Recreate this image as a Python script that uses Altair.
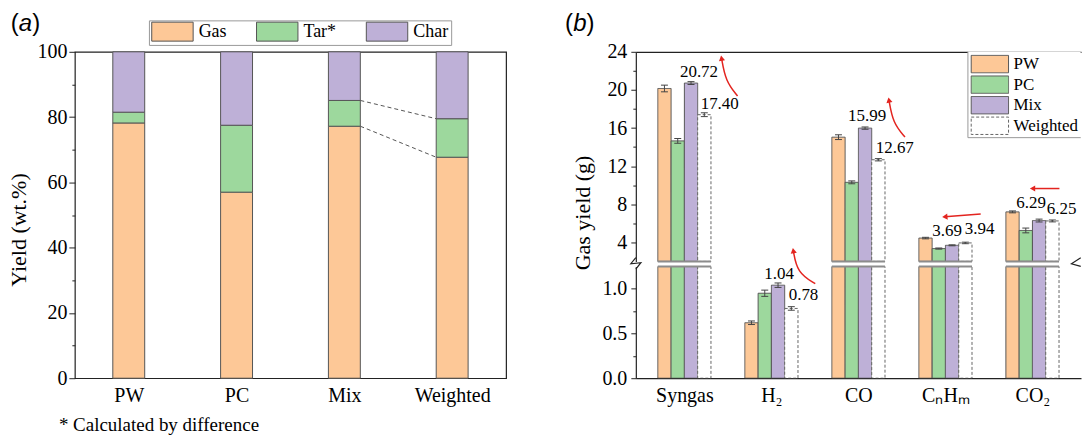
import json

import altair as alt
import pandas as pd

# ---- (a) product distribution, wt.% (tar by difference) ----
samples = ["PW", "PC", "Mix", "Weighted"]
gas_wt = [78.2, 57.0, 77.2, 67.7]
tar_wt = [3.3, 20.5, 7.9, 11.8]
char_wt = [18.5, 22.5, 14.9, 20.5]
fractions = ["Gas", "Tar*", "Char"]

# ---- (b) gas yields, g ----
gases = ["Syngas", "H₂", "CO", "CₙHₘ", "CO₂"]
feeds = ["PW", "PC", "Mix", "Weighted"]
gas_pw = [20.15, 0.62, 15.04, 4.45, 7.20]
gas_pc = [14.65, 0.95, 10.30, 3.35, 5.25]
gas_mix = [20.72, 1.04, 15.99, 3.69, 6.29]
gas_weighted = [17.40, 0.78, 12.67, 3.94, 6.25]
sd_pw = [0.35, 0.02, 0.25, 0.08, 0.10]
sd_pc = [0.25, 0.035, 0.15, 0.06, 0.25]
sd_mix = [0.15, 0.025, 0.12, 0.05, 0.15]
sd_weighted = [0.20, 0.02, 0.12, 0.08, 0.10]

# pixel nudges (dx, dy) of the value labels, one per gas
label_nudge = {
    "Mix": [(8, -11), (1, -11), (2, -12), (-5, -14), (-8, -18)],
    "Weighted": [(3, -11), (4, -13), (4, -12), (6, -14), (1, -12)],
}

# red trend arrows (Weighted -> Mix) in panel (b) data units; last point is the head
arrows_upper = {
    "Syngas": [(0.611, 19.36), (0.473, 20.93), (0.427, 23.34)],
    "CO": [(2.535, 15.06), (2.397, 16.53), (2.351, 18.94)],
    "CnHm": [(3.405, 6.97), (2.993, 6.68)],
    "CO2": [(4.31, 9.65), (4.001, 9.65)],
}
arrows_lower = {"H2": [(1.504, 1.057), (1.297, 1.18), (1.252, 1.427)]}
head_angle = {"Syngas": 350, "CO": 350, "CnHm": 265, "CO2": 270, "H2": 350}

ORANGE, GREEN, PURPLE = "#FDC897", "#9DD89D", "#BEB0D7"
RED = "#E3241F"
EDGE = "#555555"
DASH_EDGE = "#666666"
INK = "#222222"
BREAK = "#8C8C8C"
BOX = "#999999"
SERIF, SANS = "Liberation Serif", "Liberation Sans"

# broken y axis of panel (b)
UP_DOM = [2, 24]
LO_DOM = [0, 1.25]
X_DOM = [-0.558, 4.558]
BAR_W = 0.1527      # one bar, in group units
CAP = 0.04          # half width of error caps
HALF_A = 0.148      # half bar width in panel (a)
W_B = 446           # panel (b) plot width


def label_lookup(names):
    return json.dumps(names, ensure_ascii=False) + "[round(datum.value)]"


def blank():
    return alt.Chart(alt.Data(values=[{}]))


def word(text, x, y, size, font=SERIF, style="normal", baseline="alphabetic"):
    return blank().mark_text(
        text=text, font=font, fontSize=size, fontStyle=style,
        align="left", baseline=baseline, color="black",
    ).encode(x=alt.value(x), y=alt.value(y))


def panel_tag(letter, x, y):
    return [
        word("(", x, y, 24, SANS),
        word(letter, x + 8.2, y, 24, SANS, "italic"),
        word(")", x + 21.5, y, 24, SANS),
    ]


def box(x, x2, y, y2, **style):
    return blank().mark_rect(**style).encode(
        x=alt.value(x), x2=alt.value(x2), y=alt.value(y), y2=alt.value(y2))


def line(x, x2, y, y2, color=BOX):
    return blank().mark_rule(color=color, strokeWidth=1).encode(
        x=alt.value(x), x2=alt.value(x2), y=alt.value(y), y2=alt.value(y2))


# ================= panel (a) =================
rows_a = []
for i, s in enumerate(samples):
    base = 0.0
    for f, vals in zip(fractions, (gas_wt, tar_wt, char_wt)):
        rows_a.append({"sample": s, "fraction": f, "x0": i - HALF_A,
                       "x1": i + HALF_A, "lo": base, "hi": base + vals[i]})
        base += vals[i]
df_a = pd.DataFrame(rows_a)

mi, wi = samples.index("Mix"), samples.index("Weighted")
df_link = pd.DataFrame({
    "xa": [mi + HALF_A] * 2,
    "xb": [wi - HALF_A] * 2,
    "ya": [gas_wt[mi], gas_wt[mi] + tar_wt[mi]],
    "yb": [gas_wt[wi], gas_wt[wi] + tar_wt[wi]],
})

xa_scale = alt.Scale(domain=[-0.5, len(samples) - 0.5], nice=False, zero=False)
ya_scale = alt.Scale(domain=[0, 100], nice=False)
xa_axis = alt.Axis(values=list(range(len(samples))), labelExpr=label_lookup(samples),
                   ticks=False, domain=False, grid=False, title=None, labelPadding=7)
ya_axis = alt.Axis(
    values=list(range(0, 101, 10)),
    labelExpr="datum.value % 20 === 0 ? datum.label : ''",
    tickSize={"condition": {"test": "datum.value % 20 === 0", "value": 6}, "value": 3},
    domain=False, grid=False, title="Yield (wt.%)", titleAngle=270,
    titleAlign="center", titleBaseline="bottom", titleX=-44, titleY=178,
    labelPadding=2,
)
frac_colors = [ORANGE, GREEN, PURPLE]

bars_a = alt.Chart(df_a).mark_bar(strokeWidth=1, stroke=EDGE).encode(
    x=alt.X("x0:Q", scale=xa_scale, axis=xa_axis),
    x2="x1:Q",
    y=alt.Y("lo:Q", scale=ya_scale, axis=ya_axis),
    y2="hi:Q",
    fill=alt.Fill("fraction:N", scale=alt.Scale(domain=fractions, range=frac_colors), legend=None),
)
links_a = alt.Chart(df_link).mark_rule(color=EDGE, strokeWidth=1, strokeDash=[4, 3]).encode(
    x=alt.X("xa:Q", scale=xa_scale, axis=xa_axis), x2="xb:Q",
    y=alt.Y("ya:Q", scale=ya_scale, axis=ya_axis), y2="yb:Q",
)

# horizontal key above panel (a)
key_a = [box(74.7, 377.5, -31, -6.4, fill="white", stroke=BOX, strokeWidth=1)]
for f, c, sx in zip(fractions, frac_colors, (77, 182, 292)):
    key_a.append(box(sx, sx + 41.5, -29.7, -10.7, fill=c, stroke=EDGE, strokeWidth=1))
    key_a.append(word(f, sx + 47, -20.2, 18, baseline="middle"))

left = alt.layer(
    bars_a, links_a, *key_a, *panel_tag("a", -64.3, -21),
    word("* Calculated by difference", -16, 380, 19),
).properties(width=432, height=327, view=alt.ViewBackground(stroke=INK, strokeWidth=1.2))

# ================= panel (b) =================
rows_b = []
for i, g in enumerate(gases):
    for k, (s, vals, errs) in enumerate(zip(feeds, (gas_pw, gas_pc, gas_mix, gas_weighted),
                                            (sd_pw, sd_pc, sd_mix, sd_weighted))):
        x0 = i + (k - 2) * BAR_W
        xc = x0 + BAR_W / 2
        rows_b.append({"gi": i, "gas": g, "feed": s, "x0": x0, "x1": x0 + BAR_W, "xc": xc,
                       "c0": xc - CAP, "c1": xc + CAP, "v": vals[i],
                       "lo": vals[i] - errs[i], "hi": vals[i] + errs[i]})
df_b = pd.DataFrame(rows_b)
df_caps = pd.concat([df_b.assign(cy=df_b["lo"]), df_b.assign(cy=df_b["hi"])])

group_max = df_b.groupby("gas", sort=False)["v"].max()
df_grp = pd.DataFrame([{"gx0": i - 2 * BAR_W, "gx1": i + 2 * BAR_W}
                       for i, g in enumerate(gases) if group_max[g] > UP_DOM[0]])


def arrow_frames(arrows):
    pts, heads = [], []
    for name, path in arrows.items():
        for k, (x, y) in enumerate(path):
            pts.append({"id": name, "k": k, "x": x, "y": y})
        heads.append({"id": name, "x": path[-1][0], "y": path[-1][1], "ang": head_angle[name]})
    return pd.DataFrame(pts), pd.DataFrame(heads)


xb_scale = alt.Scale(domain=X_DOM, nice=False, zero=False)
yu_scale = alt.Scale(domain=UP_DOM, nice=False, zero=False)
yl_scale = alt.Scale(domain=LO_DOM, nice=False, zero=False)

xu_axis = alt.Axis(orient="top", labels=False, ticks=False, domain=True, grid=False, title=None)
yu_axis = alt.Axis(
    values=list(range(4, 25, 2)),
    labelExpr="datum.value % 4 === 0 ? datum.label : ''",
    tickSize={"condition": {"test": "datum.value % 4 === 0", "value": 5}, "value": 3},
    domain=True, grid=False, title="Gas yield (g)", titleAngle=270,
    titleAlign="center", titleBaseline="bottom", titleX=-41, titleY=161,
    labelPadding=4,
)
xl_axis = alt.Axis(values=list(range(len(gases))), labelExpr=label_lookup(gases),
                   ticks=False, domain=True, grid=False, title=None, labelPadding=7)
yl_axis = alt.Axis(
    values=[0, 0.25, 0.5, 0.75, 1.0],
    labelExpr="(datum.value * 2) % 1 === 0 ? format(datum.value, '.1f') : ''",
    tickSize={"condition": {"test": "(datum.value * 2) % 1 === 0", "value": 5}, "value": 3},
    domain=True, grid=False, title=None, labelPadding=4,
)

feed_fill_range = [ORANGE, GREEN, PURPLE, "white"]
feed_stroke_range = [EDGE, EDGE, EDGE, DASH_EDGE]
feed_dash_range = [[1, 0], [1, 0], [1, 0], [3, 2]]
feed_fill = alt.Scale(domain=feeds, range=feed_fill_range)
feed_stroke = alt.Scale(domain=feeds, range=feed_stroke_range)
feed_dash = alt.Scale(domain=feeds, range=feed_dash_range)

# vertical key in the upper-right corner of panel (b); its right side runs past the plot edge
key_b = [
    box(332.7, W_B - 0.3, 0, 86, fill="white"),
    line(332.7, 332.7, 0, 86),
    line(332.7, W_B - 0.3, 86, 86),
]
for k, (s, c, sc, dash) in enumerate(zip(feeds, feed_fill_range, feed_stroke_range, feed_dash_range)):
    top = 3.6 + 20.6 * k
    key_b.append(box(336, 373.4, top, top + 17.4, fill=c, stroke=sc, strokeWidth=1, strokeDash=dash))
    key_b.append(word(s, 378.4, top + 8.9, 17, baseline="middle"))


def half(ydom, yscale, xaxis, yaxis, lower):
    X = lambda f: alt.X(f, scale=xb_scale, axis=xaxis)
    Y = lambda f: alt.Y(f, scale=yscale, axis=yaxis)
    Yd = lambda v: alt.YDatum(v, scale=yscale, axis=yaxis)

    if lower:
        bars_df = df_b
        small = df_b[df_b["v"] < ydom[1]]
        small_caps = df_caps[df_caps["v"] < ydom[1]]
        base, edge = ydom[0], ydom[1]
        arrows = arrows_lower
    else:
        bars_df = df_b[df_b["v"] > ydom[0]]
        small = bars_df
        small_caps = df_caps[df_caps["v"] > ydom[0]]
        base, edge = ydom[0], ydom[0]
        arrows = arrows_upper

    bars = alt.Chart(bars_df).mark_bar(strokeWidth=1, clip=lower).encode(
        x=X("x0:Q"), x2="x1:Q", y=Y("v:Q"), y2=alt.datum(base),
        fill=alt.Fill("feed:N", scale=feed_fill, legend=None),
        stroke=alt.Stroke("feed:N", scale=feed_stroke, legend=None),
        strokeDash=alt.StrokeDash("feed:N", scale=feed_dash, legend=None),
    )
    brk = alt.Chart(df_grp).mark_rule(color=BREAK, strokeWidth=2).encode(
        x=X("gx0:Q"), x2="gx1:Q", y=Yd(edge))
    err = alt.Chart(small).mark_rule(color="#444444", strokeWidth=1).encode(
        x=X("xc:Q"), y=Y("lo:Q"), y2="hi:Q")
    caps = alt.Chart(small_caps).mark_rule(color="#444444", strokeWidth=1).encode(
        x=X("c0:Q"), x2="c1:Q", y=Y("cy:Q"))

    labels = []
    for _, r in small[small["feed"].isin(["Mix", "Weighted"])].iterrows():
        dx, dy = label_nudge[r["feed"]][int(r["gi"])]
        is_mix = r["feed"] == "Mix"
        labels.append(
            alt.Chart(pd.DataFrame([r])).mark_text(
                font=SERIF, fontSize=17, color="black",
                align="center" if is_mix else "left", baseline="middle", dx=dx, dy=dy,
            ).encode(x=X("xc:Q" if is_mix else "x0:Q"), y=Y("v:Q"),
                     text=alt.Text("v:Q", format=".2f"))
        )

    pts, heads = arrow_frames(arrows)
    arrow_line = alt.Chart(pts).mark_line(color=RED, strokeWidth=1.5, interpolate="basis").encode(
        x=X("x:Q"), y=Y("y:Q"), detail="id:N", order="k:Q")
    arrow_head = alt.Chart(heads).mark_point(
        shape="triangle-up", filled=True, size=38, color=RED, opacity=1,
    ).encode(x=X("x:Q"), y=Y("y:Q"), angle=alt.Angle("ang:Q", scale=None))

    layers = [bars, brk, err, caps, *labels, arrow_line, arrow_head]
    if lower:
        # axis-break marks on both plot sides
        zz_l = [(0, 1.347), (-0.057, 1.28), (0.058, 1.291), (0, 1.221)]
        zz_r = [(-0.003, 1.347), (-0.11, 1.28), (-0.003, 1.25)]
        zig = pd.DataFrame(
            [{"id": "l", "k": k, "x": X_DOM[0] + dx, "y": y} for k, (dx, y) in enumerate(zz_l)]
            + [{"id": "r", "k": k, "x": X_DOM[1] + dx, "y": y} for k, (dx, y) in enumerate(zz_r)]
        )
        layers.append(alt.Chart(zig).mark_line(color=INK, strokeWidth=1.2).encode(
            x=X("x:Q"), y=Y("y:Q"), detail="id:N", order="k:Q"))
    else:
        layers += key_b
        layers += panel_tag("b", -71, -21)
    h = 112 if lower else 210
    return alt.layer(*layers).properties(width=W_B, height=h)


upper = half(UP_DOM, yu_scale, xu_axis, yu_axis, lower=False)
lower = half(LO_DOM, yl_scale, xl_axis, yl_axis, lower=True)

right = alt.vconcat(upper, lower, spacing=5, bounds="flush").resolve_scale(
    fill="independent", stroke="independent", strokeDash="independent", y="independent")

chart = alt.hconcat(left, right, spacing=130, bounds="flush").resolve_scale(
    fill="independent", stroke="independent", strokeDash="independent"
).properties(
    padding={"left": 7, "top": 10.5, "right": 0, "bottom": 0}
).configure(font=SERIF).configure_view(stroke=None).configure_axis(
    labelFont=SERIF, labelFontSize=20, labelColor="black",
    titleFont=SERIF, titleFontSize=22, titleColor="black", titleFontWeight="normal",
    tickColor=INK, domainColor=INK, domainWidth=1.2, tickWidth=1,
)

chart.save("out.html", embed_options={"renderer": "svg", "actions": False})
